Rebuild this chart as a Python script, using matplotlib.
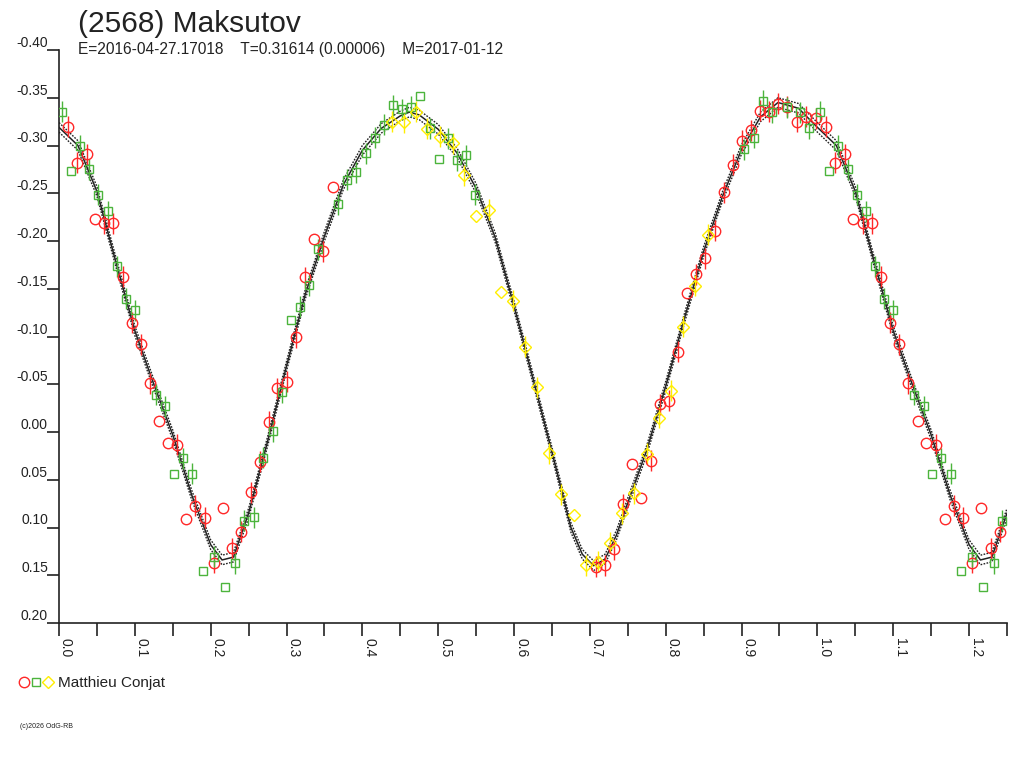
import matplotlib
matplotlib.use("Agg")
import matplotlib.pyplot as plt
from matplotlib.lines import Line2D
import numpy as np

plt.rcParams['font.family'] = ['Liberation Sans', 'DejaVu Sans']

# ---------------- data ----------------
title = "(2568) Maksutov"
subtitle = "E=2016-04-27.17018    T=0.31614 (0.00006)    M=2017-01-12"
observer = "Matthieu Conjat"
copyright_txt = "(c)2026 OdG-RB"

# fitted curve, one cycle (phase, magnitude)
curve_phase = [0.000, 0.025, 0.050, 0.075, 0.100, 0.125, 0.150, 0.175, 0.200, 0.215,
               0.230, 0.250, 0.275, 0.300, 0.325, 0.350, 0.375, 0.400, 0.425, 0.450,
               0.462, 0.475, 0.500, 0.525, 0.550, 0.575, 0.600, 0.625, 0.650, 0.675,
               0.690, 0.705, 0.720, 0.735, 0.750, 0.775, 0.800, 0.825, 0.850, 0.875,
               0.900, 0.925, 0.948, 0.975, 1.000]
curve_mag = [-0.319, -0.300, -0.252, -0.178, -0.106, -0.050, 0.003, 0.066, 0.118, 0.134,
             0.131, 0.085, 0.010, -0.069, -0.145, -0.205, -0.259, -0.295, -0.318, -0.331,
             -0.335, -0.332, -0.317, -0.292, -0.255, -0.204, -0.132, -0.056, 0.021, 0.100,
             0.128, 0.140, 0.133, 0.108, 0.074, 0.019, -0.048, -0.120, -0.189, -0.247,
             -0.296, -0.330, -0.345, -0.339, -0.319]
curve_unc = 0.005

red_phase = [0.0114, 0.0233, 0.0364, 0.0474, 0.0596, 0.0715, 0.0838, 0.0956, 0.1079, 0.1197,
             0.1320, 0.1438, 0.1562, 0.1680, 0.1798, 0.1921, 0.2043, 0.2162, 0.2285, 0.2404,
             0.2526, 0.2645, 0.2763, 0.2877, 0.3004, 0.3127, 0.3246, 0.3368, 0.3487, 0.3618,
             0.7075, 0.7197, 0.7316, 0.7438, 0.7557, 0.7680, 0.7807, 0.7921, 0.8039, 0.8162,
             0.8280, 0.8404, 0.8522, 0.8645, 0.8763, 0.8886, 0.9004, 0.9127, 0.9246, 0.9368,
             0.9487, 0.9605, 0.9728, 0.9850, 0.9978]
red_mag = [-0.3197, -0.2820, -0.2908, -0.2227, -0.2185, -0.2185, -0.1627, -0.1145, -0.0918, -0.0510,
           -0.0118, 0.0118, 0.0136, 0.0914, 0.0771, 0.0897, 0.1368, 0.0799, 0.1218, 0.1044,
           0.0632, 0.0310, -0.0108, -0.0457, -0.0527, -0.0992, -0.1620, -0.2018, -0.1895, -0.2569,
           0.1410, 0.1393, 0.1229, 0.0754, 0.0335, 0.0688, 0.0300, -0.0293, -0.0328, -0.0841,
           -0.1452, -0.1654, -0.1819, -0.2108, -0.2510, -0.2796, -0.3050, -0.3162, -0.3365, -0.3354,
           -0.3435, -0.3406, -0.3250, -0.3302, -0.3284]
red_err = [0.011, 0.011, 0.011, 0.0, 0.011, 0.011, 0.011, 0.011, 0.011, 0.011,
           0.0, 0.0, 0.011, 0.0, 0.011, 0.011, 0.011, 0.0, 0.011, 0.011,
           0.011, 0.011, 0.011, 0.011, 0.011, 0.011, 0.011, 0.0, 0.011, 0.0,
           0.011, 0.011, 0.011, 0.011, 0.0, 0.0, 0.011, 0.011, 0.011, 0.011,
           0.0, 0.011, 0.011, 0.011, 0.011, 0.011, 0.011, 0.011, 0.011, 0.011,
           0.011, 0.011, 0.011, 0.011, 0.011]

green_phase = [0.0035, 0.0154, 0.0276, 0.0400, 0.0517, 0.0640, 0.0763, 0.0877, 0.0996, 0.1276,
               0.1399, 0.1517, 0.1632, 0.1759, 0.1895, 0.2043, 0.2188, 0.2325, 0.2439, 0.2566,
               0.2689, 0.2820, 0.2939, 0.3057, 0.3175, 0.3298, 0.3421, 0.3684, 0.3803, 0.3921,
               0.4043, 0.4167, 0.4285, 0.4408, 0.4526, 0.4645, 0.4759, 0.4891, 0.5013, 0.5132,
               0.5246, 0.5368, 0.5487, 0.9035, 0.9158, 0.9280, 0.9399, 0.9596, 0.9772, 0.9890]
green_mag = [-0.3354, -0.2736, -0.2995, -0.2751, -0.2482, -0.2314, -0.1738, -0.1396, -0.1277, -0.0391,
             -0.0272, 0.0437, 0.0276, 0.0437, 0.1455, 0.1306, 0.1620, 0.1375, 0.0929, 0.0893,
             0.0269, -0.0010, -0.0416, -0.1173, -0.1312, -0.1536, -0.1913, -0.2387, -0.2639, -0.2719,
             -0.2918, -0.3082, -0.3215, -0.3424, -0.3382, -0.3406, -0.3522, -0.3180, -0.2862, -0.3075,
             -0.2848, -0.2900, -0.2482, -0.2960, -0.3082, -0.3469, -0.3347, -0.3400, -0.3347, -0.3180]
green_err = [0.011, 0.0, 0.011, 0.011, 0.011, 0.011, 0.011, 0.011, 0.011, 0.011,
             0.011, 0.0, 0.011, 0.011, 0.0, 0.011, 0.0, 0.011, 0.011, 0.011,
             0.011, 0.011, 0.011, 0.0, 0.011, 0.011, 0.011, 0.011, 0.011, 0.011,
             0.011, 0.011, 0.011, 0.011, 0.011, 0.011, 0.0, 0.011, 0.0, 0.011,
             0.011, 0.011, 0.011, 0.011, 0.011, 0.011, 0.011, 0.011, 0.011, 0.011]

yellow_phase = [0.4386, 0.4543, 0.4701, 0.4855, 0.5026, 0.5189, 0.5342, 0.5504, 0.5671, 0.5825,
                0.5987, 0.6145, 0.6307, 0.6465, 0.6623, 0.6785, 0.6947, 0.7105, 0.7263, 0.7425,
                0.7579, 0.7754, 0.7912, 0.8070, 0.8228, 0.8390, 0.8553]
yellow_mag = [-0.3250, -0.3243, -0.3354, -0.3173, -0.3093, -0.3023, -0.2691, -0.2262, -0.2325, -0.1469,
              -0.1372, -0.0893, -0.0468, 0.0223, 0.0653, 0.0869, 0.1393, 0.1358, 0.1159, 0.0852,
              0.0642, 0.0230, -0.0150, -0.0433, -0.1103, -0.1529, -0.2063]
yellow_err = [0.011, 0.011, 0.011, 0.011, 0.011, 0.011, 0.011, 0.0, 0.011, 0.0,
              0.011, 0.011, 0.011, 0.011, 0.011, 0.0, 0.011, 0.011, 0.011, 0.011,
              0.011, 0.011, 0.011, 0.011, 0.011, 0.011, 0.011]

x_ticks = [0.0, 0.1, 0.2, 0.3, 0.4, 0.5, 0.6, 0.7, 0.8, 0.9, 1.0, 1.1, 1.2]
x_labels = ["0.0", "0.1", "0.2", "0.3", "0.4", "0.5", "0.6", "0.7", "0.8", "0.9", "1.0", "1.1", "1.2"]
x_minor = [0.05, 0.15, 0.25, 0.35, 0.45, 0.55, 0.65, 0.75, 0.85, 0.95, 1.05, 1.15, 1.25]
y_ticks = [-0.40, -0.35, -0.30, -0.25, -0.20, -0.15, -0.10, -0.05, 0.00, 0.05, 0.10, 0.15, 0.20]
y_labels = ["-0.40", "-0.35", "-0.30", "-0.25", "-0.20", "-0.15", "-0.10", "-0.05",
            "0.00", "0.05", "0.10", "0.15", "0.20"]

RED = "#ff2828"
GREEN = "#4cb43c"
YELLOW = "#ffee00"
INK = "#222222"
XMAX = 1.25

# ---------------- figure ----------------
W, H = 1024, 768
fig = plt.figure(figsize=(W / 100, H / 100), dpi=100)
ax = fig.add_axes([59 / W, 1 - 623 / H, (1007 - 59) / W, (623 - 50) / H])
ax.set_xlim(0, XMAX)
ax.set_ylim(0.20, -0.40)


def extend(ph, mg, er):
    ph = np.asarray(ph); mg = np.asarray(mg); er = np.asarray(er)
    sel = ph + 1 <= XMAX
    return (np.concatenate([ph, ph[sel] + 1]),
            np.concatenate([mg, mg[sel]]),
            np.concatenate([er, er[sel]]))


# curve
cp = np.asarray(curve_phase); cm = np.asarray(curve_mag)
sel = (cp > 0) & (cp + 1 <= XMAX)
cx = np.concatenate([cp, cp[sel] + 1])
cy = np.concatenate([cm, cm[sel]])
ax.plot(cx, cy, color=INK, lw=1.1, zorder=3)
ax.plot(cx, cy - curve_unc, color=INK, lw=1.0, ls=(0, (1.2, 1.0)), zorder=3)
ax.plot(cx, cy + curve_unc, color=INK, lw=1.0, ls=(0, (1.2, 1.0)), zorder=3)

# series
MS = {'o': 7.5, 's': 6.0, 'D': 5.8}
for ph, mg, er, col, mk in [(red_phase, red_mag, red_err, RED, 'o'),
                            (green_phase, green_mag, green_err, GREEN, 's'),
                            (yellow_phase, yellow_mag, yellow_err, YELLOW, 'D')]:
    xs, ys, es = extend(ph, mg, er)
    has = es > 0
    ax.errorbar(xs[has], ys[has], yerr=es[has], fmt='none', ecolor=col, elinewidth=1.0,
                capsize=0, zorder=4)
    ax.plot(xs, ys, ls='none', marker=mk, ms=MS[mk], mfc='none', mec=col, mew=1.0, zorder=5)

# axes styling
for s in ['top', 'right']:
    ax.spines[s].set_visible(False)
for s in ['left', 'bottom']:
    ax.spines[s].set_color(INK)
    ax.spines[s].set_linewidth(1.2)

ax.set_xticks(x_ticks)
ax.set_xticklabels(x_labels)
ax.set_xticks(x_minor, minor=True)
ax.set_yticks(y_ticks)
ax.set_yticklabels(y_labels)
ax.tick_params(axis='x', which='both', direction='out', length=9, width=1.2, color=INK,
               labelsize=10, labelcolor=INK, pad=2, labelrotation=-90)
ax.tick_params(axis='y', which='both', direction='out', length=9, width=1.2, color=INK,
               labelsize=10, labelcolor=INK, pad=-1)
for lab in ax.get_xticklabels():
    lab.set_horizontalalignment('left')
for lab in ax.get_yticklabels():
    lab.set_verticalalignment('bottom')

# texts
fig.text(78 / W, 1 - 32 / H, title, fontsize=21.5, color=INK, va='baseline', ha='left')
fig.text(78 / W, 1 - 54 / H, subtitle, fontsize=11.2, color=INK, va='baseline', ha='left')

# legend
for xp, mk, col in [(24, 'o', RED), (36, 's', GREEN), (48, 'D', YELLOW)]:
    fig.add_artist(Line2D([xp / W], [1 - 682 / H], transform=fig.transFigure, ls='none',
                          marker=mk, ms=MS[mk], mfc='none', mec=col, mew=1.0))
fig.text(58 / W, 1 - 687 / H, observer, fontsize=11, color=INK, va='baseline', ha='left')
fig.text(20 / W, 1 - 728 / H, copyright_txt, fontsize=5, color=INK, va='baseline', ha='left')

fig.savefig("out.png", dpi=100)
